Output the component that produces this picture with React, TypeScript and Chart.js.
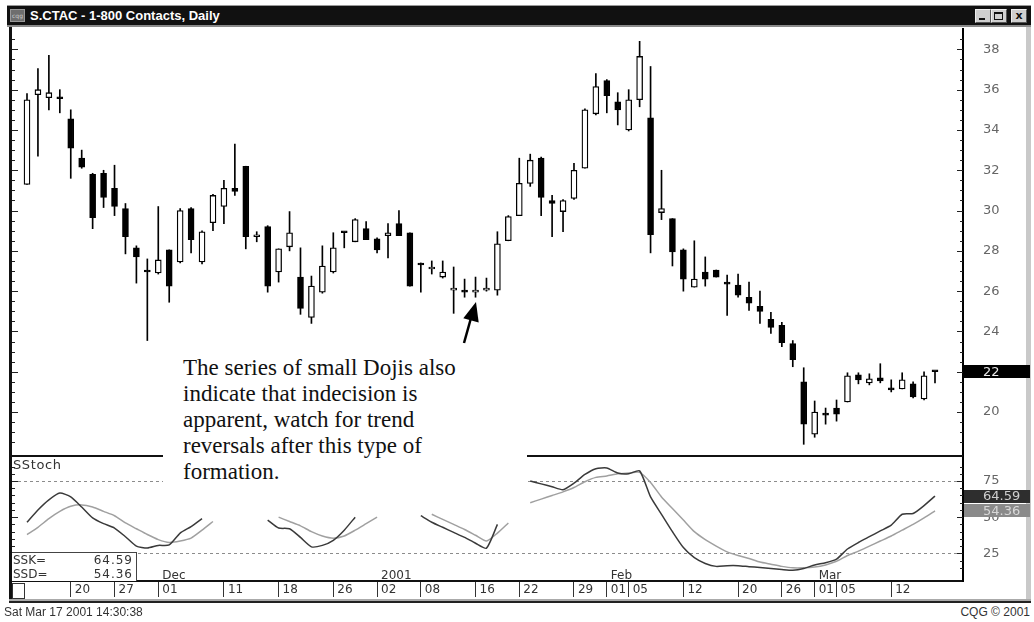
import React, { useEffect, useRef } from 'react';
import { Chart, registerables } from 'chart.js';

Chart.register(...registerables);

// ---- Daily OHLC for S.CTAC (14 Nov 2000 .. 16 Mar 2001), one entry per session ----
const open = [
  31.3, 35.75, 35.6, 35.6, 34.55, 32.6, 31.8, 31.85, 31.1, 30.1,
  28.15, 27.0, 26.9, 28.05, 27.45, 30.1, 27.45, 29.4, 30.2, 31.1,
  32.2, 28.7, 29.2, 26.95, 28.2, 26.7, 24.7, 25.95, 26.95, 28.95,
  28.45, 29.1, 28.6, 28.75, 29.35, 28.9, 27.35, 27.1, 26.7, 26.05,
  26.0, 25.95, 26.05, 26.05, 28.5, 29.75, 31.35, 32.6, 30.5, 29.95,
  30.6, 32.1, 34.8, 36.45, 35.4, 34.0, 35.5, 34.6, 29.9, 29.6,
  28.05, 26.2, 26.95, 27.05, 26.45, 26.3, 25.7, 25.25, 24.6, 24.3,
  23.4, 21.5, 18.9, 19.95, 20.2, 20.5, 21.85, 21.45, 21.7, 21.15,
  21.15, 21.4, 20.65, 22.05,
];
const high = [
  35.8, 37.05, 37.7, 36.0, 35.0, 33.0, 31.85, 32.0, 32.25, 30.35,
  28.25, 27.6, 30.2, 28.05, 30.1, 30.15, 29.0, 30.8, 31.5, 33.3,
  32.2, 28.95, 29.25, 28.1, 29.95, 28.15, 26.75, 28.25, 28.9, 28.95,
  29.6, 29.45, 28.65, 29.35, 30.0, 28.9, 27.4, 27.5, 27.5, 27.2,
  26.6, 26.7, 26.65, 28.95, 29.75, 32.6, 32.8, 32.65, 30.75, 30.55,
  32.35, 35.05, 36.8, 36.5, 35.85, 36.0, 38.4, 37.15, 32.0, 29.6,
  28.1, 28.5, 27.7, 27.05, 26.8, 26.85, 26.45, 26.0, 24.95, 24.45,
  23.55, 22.2, 20.55, 20.2, 20.6, 21.95, 21.95, 21.9, 22.4, 21.6,
  21.95, 21.5, 22.0, 22.05,
];
const low = [
  31.3, 32.7, 35.0, 34.85, 31.6, 32.1, 29.1, 30.15, 29.75, 27.85,
  26.4, 23.55, 26.85, 25.45, 27.4, 27.9, 27.35, 29.0, 29.35, 30.75,
  28.1, 28.45, 25.95, 26.45, 28.0, 24.85, 24.4, 25.9, 26.9, 28.15,
  28.45, 28.55, 27.9, 27.65, 28.75, 26.25, 25.95, 26.85, 26.65, 24.9,
  25.7, 25.7, 26.0, 25.8, 28.5, 29.75, 31.2, 29.75, 28.7, 28.95,
  30.55, 32.1, 34.75, 34.85, 34.25, 33.95, 35.15, 27.9, 29.55, 27.25,
  26.0, 26.2, 26.25, 26.7, 24.8, 25.7, 25.05, 24.4, 23.9, 23.25,
  22.25, 18.4, 18.75, 19.4, 19.55, 20.5, 21.4, 21.35, 21.45, 21.0,
  21.15, 20.7, 20.6, 21.45,
];
const close = [
  35.5, 36.0, 35.85, 35.55, 33.1, 32.15, 29.65, 30.65, 30.2, 28.7,
  27.7, 26.95, 27.55, 26.25, 30.0, 28.55, 28.95, 30.75, 31.1, 30.95,
  28.7, 28.7, 26.25, 28.1, 28.9, 25.15, 26.25, 27.25, 28.15, 28.9,
  29.55, 28.55, 28.05, 28.9, 28.75, 26.25, 27.3, 27.1, 26.95, 26.05,
  25.95, 26.0, 26.05, 28.35, 29.7, 31.35, 32.5, 30.65, 30.35, 30.5,
  32.0, 35.0, 36.15, 35.7, 35.0, 35.5, 37.65, 28.8, 30.1, 27.95,
  26.6, 26.6, 26.6, 26.7, 26.35, 25.8, 25.4, 25.0, 24.2, 23.45,
  22.6, 19.4, 20.0, 19.85, 19.9, 21.8, 21.6, 21.65, 21.55, 21.1,
  21.6, 20.75, 21.8, 22.0,
];

// ---- Slow stochastic (visible parts only) ----
const ssk = [
  46.5, 55, 62, 66.7, 64, 57, 49.5, 45.5, 42.5, 36.5,
  30, 28.7, 30.5, 30.8, 39, 43.5, 49, null, null, null,
  null, null, 48, 42.5, 42, 36, 29.5, 30.5, 34, 41,
  50, null, null, null, null, null, 51, 46.5, 43, 39.5,
  36, 32, 28.6, 45, null, null, 75, 73, 71, 69,
  73.5, 79.5, 83.5, 84, 80.5, 80, 82, 64, 52, 40,
  29, 22, 18, 16, 16.5, 16.5, 15.8, 15.2, 14.5, 13.8,
  13.3, 14.5, 17, 18.5, 21, 28, 32.5, 36.5, 40.5, 44.5,
  52, 52.5, 58, 64.59,
];
const ssd = [
  38, 43, 49, 54, 57.5, 58.5, 57, 54, 51, 46,
  42, 38, 34.5, 32.5, 33.5, 35.5, 41, 47, null, null,
  null, null, null, 50, 47, 44, 40, 37, 35.5, 37,
  41, 45.5, 50, null, null, null, null, 52, 48.5, 45,
  41.5, 37.5, 33.5, 39, 46, null, 60, 62.5, 65, 67.5,
  70.5, 74.5, 77.5, 78.5, 80, 80.5, 81, 74, 64, 56,
  48, 40, 34.5, 30, 26, 23.5, 21.5, 19, 17.5, 16,
  15, 15, 15.5, 17, 19.5, 23.5, 26.5, 30, 33.5, 37,
  41, 45, 49.5, 54.36,
];

// ---- Date axis ----
const dateTickIndex = [4, 8, 12, 18, 23, 28, 32, 36, 41, 45, 50, 53, 55, 60, 65, 69, 72, 74, 79];
const dateTickDay = ['20', '27', '01', '11', '18', '26', '02', '08', '16', '22', '29', '01', '05', '12', '20', '26', '01', '05', '12'];
const dateTickMonth = ['', '', 'Dec', '', '', '', '2001', '', '', '', '', 'Feb', '', '', '', '', 'Mar', '', ''];

const stochLevels = [25, 50, 75];

// ---- axis ranges ----
const X_MIN = -1.371;
const X_MAX = 85.56;
const P_MIN = 17.82;
const P_MAX = 39.06;
const S_MIN = 5.89;
const S_MAX = 92.28;

const AXIS_FONT = { family: 'DejaVu Sans', size: 13 };

function makeDecor(isMajor: (v: number) => boolean, boxes: { value: number; text: string; bg: string; fg: string }[]) {
  return {
    id: 'decor',
    afterDraw(chart: any) {
      const ctx = chart.ctx;
      const y = chart.scales.y;
      const { left, right } = chart.chartArea;
      ctx.save();
      ctx.strokeStyle = '#222';
      ctx.lineWidth = 1;
      y.ticks.forEach((t: any) => {
        if (t.value <= y.min + 1e-6 || t.value >= y.max - 1e-6) return;
        const py = Math.round(y.getPixelForValue(t.value)) + 0.5;
        const len = isMajor(t.value) ? 6 : 3;
        ctx.beginPath();
        ctx.moveTo(right - len, py);
        ctx.lineTo(right, py);
        ctx.moveTo(left, py);
        ctx.lineTo(left + len, py);
        ctx.stroke();
      });
      boxes.forEach((b) => {
        const py = y.getPixelForValue(b.value);
        ctx.fillStyle = b.bg;
        ctx.fillRect(right + 1, Math.round(py - 6.5), chart.width - right - 1, 13);
        ctx.fillStyle = b.fg;
        ctx.font = '13px "DejaVu Sans"';
        ctx.textBaseline = 'middle';
        ctx.textAlign = 'left';
        ctx.fillText(b.text, right + 20, py + 0.5);
      });
      ctx.restore();
    },
  };
}

const fitRightAxis = (s: any) => {
  s.width = 67;
  s.paddingTop = 0;
  s.paddingBottom = 0;
};

export default function App() {
  const priceRef = useRef<HTMLCanvasElement>(null);
  const stochRef = useRef<HTMLCanvasElement>(null);

  useEffect(() => {
    const idx = open.map((_, i) => i);
    const lastClose = close[close.length - 1];
    const lastK = ssk[ssk.length - 1] as number;
    const lastD = ssd[ssd.length - 1] as number;

    const price = new Chart(priceRef.current as HTMLCanvasElement, {
      type: 'bar',
      data: {
        datasets: [
          {
            label: 'body',
            data: idx.map((i) => ({ x: i, y: [open[i], close[i]] })) as any,
            backgroundColor: idx.map((i) => (close[i] >= open[i] ? '#ffffff' : '#000000')),
            borderColor: '#000000',
            borderWidth: 1.3,
            borderSkipped: false,
            barThickness: 6,
            minBarLength: 2,
            grouped: false,
            order: 0,
          } as any,
          {
            label: 'wick',
            data: idx.map((i) => ({ x: i, y: [low[i], high[i]] })) as any,
            backgroundColor: '#000000',
            borderWidth: 0,
            barThickness: 1,
            grouped: false,
            order: 1,
          } as any,
        ],
      },
      options: {
        responsive: false,
        animation: false,
        devicePixelRatio: 1,
        layout: { padding: 0, autoPadding: false },
        plugins: { legend: { display: false }, tooltip: { enabled: false } },
        scales: {
          x: { type: 'linear', min: X_MIN, max: X_MAX, offset: false, display: false },
          y: {
            position: 'right',
            min: P_MIN,
            max: P_MAX,
            ticks: {
              stepSize: 0.5,
              autoSkip: false,
              padding: 20,
              color: '#666',
              font: AXIS_FONT,
              callback: (v: any) => {
                const r = Math.round(v);
                return Math.abs(v - r) < 1e-6 && r % 2 === 0 ? String(r) : '';
              },
            },
            grid: { display: false, drawTicks: false },
            border: { display: true, color: '#000', width: 2 },
            afterFit: fitRightAxis,
          } as any,
        },
      },
      plugins: [
        makeDecor(
          (v) => Math.abs(v - Math.round(v)) < 1e-6 && Math.round(v) % 2 === 0,
          [{ value: lastClose, text: String(Math.round(lastClose)), bg: '#000', fg: '#e8e8e8' }]
        ),
      ],
    });

    const stoch = new Chart(stochRef.current as HTMLCanvasElement, {
      type: 'line',
      data: {
        datasets: [
          {
            label: 'SSK',
            data: idx.map((i) => ({ x: i, y: ssk[i] })) as any,
            borderColor: '#3a3a3a',
            borderWidth: 1.5,
            pointRadius: 0,
            tension: 0.2,
            spanGaps: false,
            order: 0,
          },
          {
            label: 'SSD',
            data: idx.map((i) => ({ x: i, y: ssd[i] })) as any,
            borderColor: '#a0a0a0',
            borderWidth: 1.5,
            pointRadius: 0,
            tension: 0.2,
            spanGaps: false,
            order: 1,
          },
        ],
      },
      options: {
        responsive: false,
        animation: false,
        devicePixelRatio: 1,
        layout: { padding: 0, autoPadding: false },
        plugins: { legend: { display: false }, tooltip: { enabled: false } },
        scales: {
          x: {
            type: 'linear',
            min: X_MIN,
            max: X_MAX,
            offset: false,
            afterBuildTicks: (s: any) => {
              s.ticks = dateTickIndex.map((v) => ({ value: v }));
            },
            ticks: {
              autoSkip: false,
              maxRotation: 0,
              minRotation: 0,
              align: 'start',
              mirror: true,
              padding: -2,
              labelOffset: 4,
              color: '#333',
              font: { family: 'DejaVu Sans', size: 12 },
              callback: (_v: any, i: number) => [dateTickMonth[i], dateTickDay[i]],
            },
            grid: { drawOnChartArea: false, drawTicks: true, tickLength: 16, tickColor: '#333', tickWidth: 1, color: '#333' },
            border: { display: true, color: '#111', width: 2 },
            afterFit: (s: any) => {
              s.height = 20;
              s.paddingLeft = 0;
              s.paddingRight = 0;
            },
          } as any,
          y: {
            position: 'right',
            min: S_MIN,
            max: S_MAX,
            ticks: {
              stepSize: 5,
              autoSkip: false,
              padding: 20,
              color: '#666',
              font: AXIS_FONT,
              callback: (v: any) => (stochLevels.includes(v) ? String(v) : ''),
            },
            grid: {
              drawTicks: false,
              lineWidth: 1,
              color: (c: any) => (c.tick && (c.tick.value === 25 || c.tick.value === 75) ? '#8c8c8c' : 'rgba(0,0,0,0)'),
            },
            border: { display: true, color: '#000', width: 2, dash: [3, 3] },
            afterFit: fitRightAxis,
          } as any,
        },
      },
      plugins: [
        makeDecor(
          (v) => Math.abs(v % 25) < 1e-6,
          [
            { value: lastK, text: lastK.toFixed(2), bg: '#2e2e2e', fg: '#cfcfcf' },
            { value: lastD, text: lastD.toFixed(2), bg: '#8a8a8a', fg: '#d8d8d8' },
          ]
        ),
      ],
    });

    return () => {
      price.destroy();
      stoch.destroy();
    };
  }, []);

  const abs = (s: React.CSSProperties): React.CSSProperties => ({ position: 'absolute', ...s });

  return (
    <div style={abs({ left: 0, top: 0, width: 1034, height: 622, background: '#fff', overflow: 'hidden', fontFamily: '"DejaVu Sans", sans-serif' })}>
      {/* window frame */}
      <div style={abs({ left: 1026, top: 27, width: 5, height: 575, background: '#c9c9c9' })} />
      <div style={abs({ left: 7, top: 5, width: 1024, height: 22, background: '#111', borderTop: '1px solid #999', boxSizing: 'border-box' })} />
      <div style={abs({ left: 7, top: 25, width: 1024, height: 2, background: '#8a8a8a' })} />
      <div style={abs({ left: 10, top: 9, width: 15, height: 13, background: '#6e6e6e', border: '1px solid #999', boxSizing: 'border-box', fontSize: 6, color: '#ccc', lineHeight: '11px', textAlign: 'center' })}>cqg</div>
      <div style={abs({ left: 30, top: 5, height: 21, lineHeight: '21px', color: '#fff', fontFamily: '"Liberation Sans", Arial, sans-serif', fontWeight: 'bold', fontSize: 13, whiteSpace: 'pre' })}>
        S.CTAC - 1-800 Contacts, Daily
      </div>
      <div style={abs({ left: 975, top: 9, width: 16, height: 14, background: '#cfcfcf', border: '1px solid #eee', borderRightColor: '#555', borderBottomColor: '#555', boxSizing: 'border-box' })}>
        <div style={abs({ left: 3, top: 8, width: 6, height: 2, background: '#111' })} />
      </div>
      <div style={abs({ left: 991, top: 9, width: 16, height: 14, background: '#cfcfcf', border: '1px solid #eee', borderRightColor: '#555', borderBottomColor: '#555', boxSizing: 'border-box' })}>
        <div style={abs({ left: 2, top: 2, width: 9, height: 8, border: '1px solid #111', borderTopWidth: 2, boxSizing: 'border-box' })} />
      </div>
      <div style={abs({ left: 1011, top: 9, width: 16, height: 14, background: '#cfcfcf', border: '1px solid #eee', borderRightColor: '#555', borderBottomColor: '#555', boxSizing: 'border-box', fontSize: 11, fontWeight: 'bold', lineHeight: '12px', textAlign: 'center', color: '#111' })}>
        x
      </div>

      {/* charts */}
      <canvas ref={priceRef} width={1018} height={428} style={abs({ left: 12, top: 28, width: 1018, height: 428 })} />
      <canvas ref={stochRef} width={1018} height={145} style={abs({ left: 12, top: 456, width: 1018, height: 145 })} />

      {/* left border and panel divider */}
      <div style={abs({ left: 9, top: 27, width: 3, height: 575, background: '#111' })} />
      <div style={abs({ left: 12, top: 455, width: 951, height: 2, background: '#111' })} />
      <div style={abs({ left: 13, top: 457, fontSize: 13, letterSpacing: 0.6, color: '#333', lineHeight: '15px' })}>SStoch</div>

      {/* SSK / SSD readout */}
      <div style={abs({ left: 12, top: 552, width: 125, height: 29, background: '#fff', borderTop: '1px solid #444', borderRight: '1px solid #444', boxSizing: 'border-box', fontSize: 12, color: '#333' })}>
        <div style={abs({ left: 1, top: 0, lineHeight: '14px' })}>SSK=</div>
        <div style={abs({ right: 3, top: 0, lineHeight: '14px', letterSpacing: 1 })}>64.59</div>
        <div style={abs({ left: 1, top: 14, lineHeight: '14px' })}>SSD=</div>
        <div style={abs({ right: 3, top: 14, lineHeight: '14px', letterSpacing: 1 })}>54.36</div>
      </div>
      <div style={abs({ left: 12, top: 583, width: 13, height: 16, background: '#fff', border: '1px solid #333', boxSizing: 'border-box' })} />

      {/* bottom frame */}
      <div style={abs({ left: 9, top: 599, width: 1022, height: 2, background: '#aaa' })} />
      <div style={abs({ left: 9, top: 601, width: 1022, height: 2, background: '#222' })} />
      <div style={abs({ left: 4, top: 605, fontFamily: '"Liberation Sans", Arial, sans-serif', fontSize: 12, color: '#333', lineHeight: '14px' })}>Sat Mar 17 2001 14:30:38</div>
      <div style={abs({ right: 4, top: 605, fontFamily: '"Liberation Sans", Arial, sans-serif', fontSize: 12, color: '#333', lineHeight: '14px' })}>CQG © 2001</div>

      {/* annotation */}
      <div style={abs({ left: 163, top: 336, width: 364, height: 156, background: '#fff' })} />
      <div style={abs({ left: 183, top: 355, fontFamily: '"Liberation Serif", "Times New Roman", serif', fontSize: 23, lineHeight: '26px', color: '#111', whiteSpace: 'pre' })}>
        {'The series of small Dojis also\nindicate that indecision is\napparent, watch for trend\nreversals after this type of\nformation.'}
      </div>
      <svg width={1034} height={622} style={abs({ left: 0, top: 0, pointerEvents: 'none' })}>
        <line x1={464} y1={343} x2={471} y2={318} stroke="#000" strokeWidth={2.5} />
        <polygon points="476,302 463.3,318.2 478.7,322.4" fill="#000" />
      </svg>
    </div>
  );
}
